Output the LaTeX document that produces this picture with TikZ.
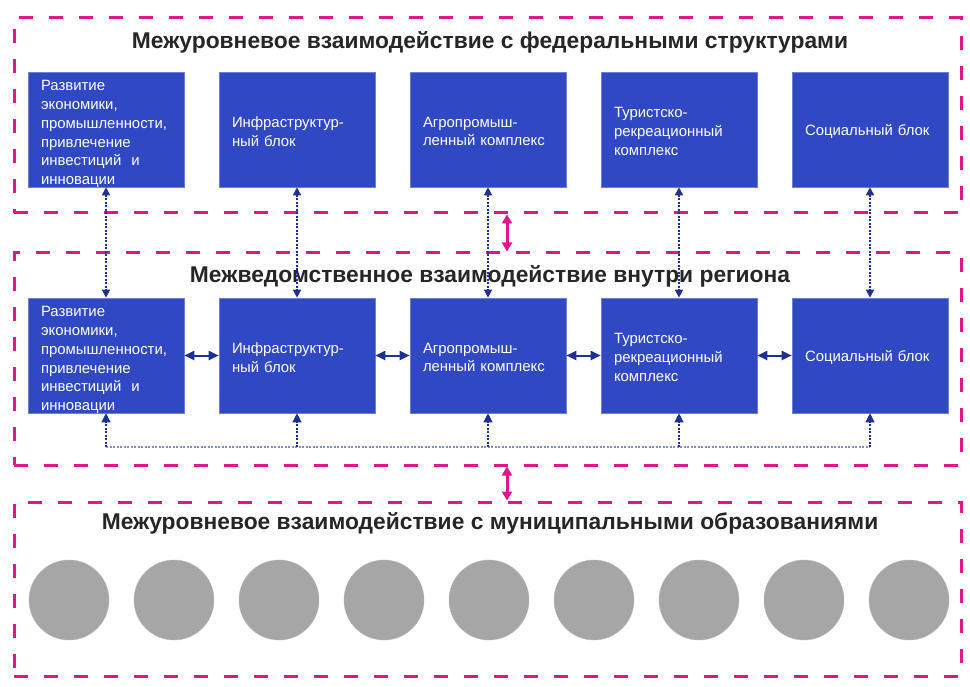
\documentclass[tikz,border=0pt]{standalone}
\usepackage{fontspec}
\setmainfont{Liberation Sans}
\usepackage{tikz}
\usetikzlibrary{positioning,arrows.meta}

\definecolor{boxblue}{RGB}{48,72,196}
\definecolor{navy}{RGB}{30,48,150}
\definecolor{rose}{RGB}{226,22,140}
\definecolor{disc}{RGB}{166,166,166}

\begin{document}
\begin{tikzpicture}[
    x=1pt, y=-1pt,
    frame/.style={draw=rose, line width=3pt, dash pattern=on 14pt off 16pt,
                  minimum width=947pt, inner sep=0pt},
    title/.style={font=\bfseries\fontsize{22.8}{24}\selectfont, text=black!85},
    blk/.style={draw=boxblue!70!white, line width=0.6pt, fill=boxblue, text=white,
                minimum width=156pt, minimum height=115pt, text width=130pt,
                inner xsep=13pt, inner ysep=0pt, align=left,
                font=\fontsize{14.9}{18.8}\selectfont},
    drop/.style={execute at end node={\endgraf\vspace*{-#1}}},
    town/.style={circle, fill=disc, draw=disc!80!white, minimum size=80pt, inner sep=0pt},
    link/.style={draw=navy, line width=1.3pt, dash pattern=on 2pt off 1.5pt,
                 {Triangle[length=8pt,width=8pt]}-{Triangle[length=8pt,width=8pt]}},
    side/.style={draw=navy, line width=2pt,
                 {Triangle[length=10pt,width=9pt]}-{Triangle[length=10pt,width=9pt]}},
    up/.style={draw=navy, line width=1.3pt, dash pattern=on 2pt off 1.5pt,
               -{Triangle[length=9pt,width=9pt]}},
    bus/.style={draw=navy!55, line width=1.3pt, dash pattern=on 2pt off 1.5pt},
    lvl/.style={draw=rose, line width=3pt,
                {Triangle[length=9pt,width=10pt]}-{Triangle[length=9pt,width=10pt]}},
  ]
    \useasboundingbox (0,0) rectangle (970,687);

    % frames of the three levels
    \node[frame, minimum height=195pt] (fed) at (487.5,115.5) {};
    \node[frame, minimum height=212pt] (reg) at (487.5,359) {};
    \node[frame, minimum height=174pt] (mun) at (487.5,589) {};

    \node[title] (tfed) at (490,42) {Межуровневое взаимодействие с федеральными структурами};
    \node[title] (treg) at (490,276) {Межведомственное взаимодействие внутри региона};
    \node[title] (tmun) at (490,523) {Межуровневое взаимодействие с муниципальными образованиями};

    % blocks: top row (federal) and middle row (region)
    \foreach \row/\y in {top/129.5, mid/355.5} {
      \node[blk, drop=9pt] (\row1) at (106,\y) {Развитие\\экономики,\\промышленности,\\привлечение\\инвестиций~ и\\инновации};
      \node[blk, drop=4pt] (\row2) at (297,\y) {Инфраструктур-\\ный блок};
      \node[blk, drop=4pt] (\row3) at (488,\y) {Агропромыш-\\ленный комплекс};
      \node[blk, drop=4pt] (\row4) at (679,\y) {Туристско-\\рекреационный\\комплекс};
      \node[blk, drop=4pt] (\row5) at (870,\y) {Социальный блок};
    }

    % municipalities
    \foreach \i in {0,...,8}
      \node[town] (town\i) at (69+105*\i,600) {};

    % links between rows
    \foreach \i in {1,...,5}
      \draw[link] (top\i.south) -- (mid\i.north);
    \foreach \i/\j in {1/2,2/3,3/4,4/5}
      \draw[side] (mid\i.east) -- (mid\j.west);

    \coordinate (busy) at (0,447);
    \draw[bus] (mid1.south |- busy) -- (mid5.south |- busy);
    \foreach \i in {1,...,5}
      \draw[up] (mid\i.south |- busy) -- (mid\i.south);

    % links between levels
    \coordinate (lvx) at (507,0);
    \draw[lvl] (fed.south -| lvx) -- (reg.north -| lvx);
    \draw[lvl] (reg.south -| lvx) -- (mun.north -| lvx);
  \end{tikzpicture}
\end{document}
